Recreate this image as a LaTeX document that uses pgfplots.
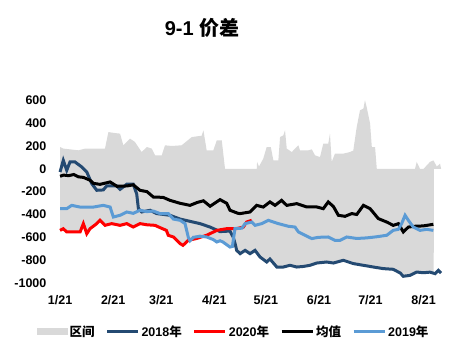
\documentclass[border=0pt]{standalone}
\usepackage{fontspec}
\setmainfont{Liberation Sans}
\newfontfamily\cjk{Noto Sans CJK SC}
\usepackage{pgfplots}
\pgfplotsset{compat=1.18}
\definecolor{rng}{HTML}{D9D9D9}
\definecolor{c18}{HTML}{244A72}
\definecolor{c19}{HTML}{5B9BD5}
\definecolor{c20}{HTML}{FF0000}
\begin{document}
\begin{tikzpicture}
\useasboundingbox (0,0) rectangle (470pt,360pt);
\begin{axis}[
  at={(54.9pt,77pt)}, anchor=south west,
  scale only axis, width=392.7pt, height=182.7pt,
  xmin=-3, xmax=226, ymin=-1000, ymax=600,
  axis line style={draw=none}, tick style={draw=none},
  xtick={0,31,59,90,120,151,181,212},
  xticklabels={1/21,2/21,3/21,4/21,5/21,6/21,7/21,8/21},
  ytick={-1000,-800,-600,-400,-200,0,200,400,600},
  yticklabels={-1000,-800,-600,-400,-200,0,200,400,600},
  ticklabel style={font=\bfseries\fontsize{12.5}{14}\selectfont},
  yticklabel style={xshift=-5pt},
  xticklabel style={yshift=-9pt},
  legend columns=5,
  legend image code/.code={\draw[#1, line width=3pt] (0pt,0pt) -- (31pt,0pt);},
  legend style={draw=none, fill=none, at={(0.4548,-0.268)}, anchor=center,
    font=\bfseries\fontsize{12.5}{14}\selectfont,
    /tikz/every even column/.append style={column sep=9pt}},
]
\addplot[fill=rng, draw=none, legend image code/.code={\fill[rng] (0pt,-3.5pt) rectangle (31pt,3.5pt);}] coordinates {
(0,191)(2,177)(10.7,162)(14.6,177)(26.2,177)(28.2,322)(31.1,315)(35,308)(36.9,206)(40.8,264)(43.7,235)(47.6,147)(50.6,191)(53.5,177)(55.4,118)(59.3,118)(61.2,206)(65.1,200)(70.9,206)(76.8,278)(82.6,290)(83.6,337)(85.5,162)(89.4,162)(91.4,250)(94.3,250)(96.2,0)(114.7,0)(114.9,60)(116,20)(118.5,89)(120.5,191)(122.9,191)(124.4,74)(127.3,74)(128.3,278)(130.2,293)(131.2,337)(132.2,177)(135.1,147)(139,206)(139.9,162)(144.8,162)(146.8,170)(148.7,118)(151.6,103)(153.5,220)(156.4,220)(157.4,308)(158.4,60)(160.3,133)(165.2,133)(169.1,147)(171,160)(173,366)(174.9,512)(176.9,527)(177.8,600)(178.8,541)(180.8,396)(181.8,191)(183.7,191)(184.7,0)(207,0)(207.5,30)(208,60)(209.9,0)(212,0)(215.7,60)(217.7,74)(219.7,20)(221.6,45)(222.2,0)
(218,0)(217.9,-905)(215.7,-905)(211.8,-910)(208,-904)(204.1,-933)(200.2,-941)(198.3,-912)(194.3,-880)(188.5,-874)(182.7,-860)(176.9,-845)(171,-830)(165.2,-801)(159.4,-825)(155.5,-816)(149.7,-825)(145.8,-845)(141.9,-855)(138,-860)(134.1,-845)(130.2,-860)(126.4,-860)(122.4,-790)(120.5,-816)(116.6,-772)(113.7,-714)(110.8,-743)(107.9,-714)(105,-743)(103,-714)(102,-650)(100.5,-680)(99.1,-685)(97.2,-665)(95,-641)(93.3,-630)(91.4,-641)(89.4,-620)(85.5,-597)(81.6,-600)(77.7,-615)(75.8,-630)(74.8,-626)(71.7,-670)(70,-655)(66.1,-597)(63.1,-582)(62,-539)(58.3,-515)(55.4,-495)(50.6,-490)(46.6,-480)(42.7,-510)(38.9,-480)(35,-495)(30.1,-480)(26.2,-495)(23.3,-451)(21.4,-480)(17.5,-524)(15.6,-568)(13.6,-480)(11.7,-553)(3.9,-553)(1.9,-525)(0,-539)
} -- cycle;
\addplot[c18, line width=3pt] coordinates {
(0,-28)(1.9,74)(3.9,-13)(5.8,60)(8.7,60)(12.7,16)(15.6,-28)(18.5,-130)(21.4,-188)(25.2,-185)(27.2,-150)(33.1,-150)(35,-180)(38.9,-135)(42.7,-135)(44.7,-220)(45.7,-349)(47.6,-378)(52.5,-363)(56.4,-392)(64.1,-407)(70,-440)(75.8,-460)(81.6,-480)(87.5,-510)(93.3,-550)(99.1,-545)(101,-600)(102,-650)(103,-714)(105,-743)(107.9,-714)(110.8,-743)(113.7,-714)(116.6,-772)(120.5,-816)(122.4,-790)(126.4,-860)(130.2,-860)(134.1,-845)(138,-860)(141.9,-855)(145.8,-845)(149.7,-825)(155.5,-816)(159.4,-825)(165.2,-801)(171,-830)(176.9,-845)(182.7,-860)(188.5,-874)(194.3,-880)(198.3,-912)(200.2,-941)(204.1,-933)(208,-904)(211.8,-910)(215.7,-905)(218.7,-918)(220.6,-889)(222.2,-912)
};
\addplot[c20, line width=3pt] coordinates {
(0,-539)(1.9,-525)(3.9,-553)(11.7,-553)(13.6,-480)(15.6,-568)(17.5,-524)(21.4,-480)(23.3,-451)(26.2,-495)(30.1,-480)(35,-495)(38.9,-480)(42.7,-510)(46.6,-480)(50.6,-490)(55.4,-495)(58.3,-515)(62,-539)(63.1,-582)(66.1,-597)(70,-655)(71.7,-670)(74.8,-626)(79.4,-611)(85.5,-582)(91.4,-539)(97.2,-524)(103,-524)(106.9,-510)(108.8,-466)(111.8,-451)
};
\addplot[black, line width=3pt] coordinates {
(0,-65)(2,-55)(5,-60)(8,-50)(10.7,-70)(13.6,-75)(17.5,-100)(19.4,-127)(23.3,-136)(29.2,-115)(33.2,-153)(39.1,-150)(42.7,-140)(46.6,-188)(50.7,-200)(54.4,-247)(60.1,-250)(64.1,-276)(70,-302)(75.8,-320)(79.9,-295)(83.6,-280)(87.5,-328)(93.3,-270)(97.2,-302)(99.1,-363)(103.8,-390)(105,-392)(110.8,-378)(114.7,-320)(118.5,-335)(122.4,-290)(125.4,-320)(129.2,-276)(132.2,-320)(138,-305)(143.8,-334)(149.7,-334)(153.5,-349)(156.4,-290)(159.4,-330)(162.3,-407)(166.2,-416)(170.1,-392)(173,-400)(176.9,-320)(180.8,-349)(185.6,-436)(190.5,-466)(194.3,-495)(197.3,-480)(200.2,-553)(203.1,-510)(207,-503)(211.8,-500)(217.7,-486)
};
\addplot[c19, line width=3pt] coordinates {
(0,-349)(3.9,-349)(6.8,-320)(11.7,-335)(19.4,-335)(25.2,-320)(29.2,-335)(31.1,-422)(35,-407)(38.9,-378)(42.7,-390)(46.6,-363)(50.6,-375)(54.4,-370)(58.3,-392)(63.1,-392)(66.1,-440)(70,-451)(72.9,-480)(74.8,-600)(75.8,-630)(77.7,-600)(81.6,-590)(85.5,-597)(89.4,-620)(91.4,-641)(93.3,-630)(95,-641)(97.2,-665)(99.1,-685)(100.5,-680)(102,-523)(106,-520)(107.9,-480)(111.8,-466)(113.7,-495)(117.6,-480)(121.5,-451)(127.3,-480)(133.1,-503)(137,-510)(139,-553)(142.9,-582)(146.8,-611)(150.6,-600)(156.4,-597)(160.3,-626)(163.3,-626)(167.2,-597)(173,-610)(178.8,-605)(184.7,-595)(190.5,-582)(194.3,-539)(197.3,-530)(199.2,-480)(201.2,-407)(203.1,-451)(206,-510)(209.9,-539)(213.8,-530)(217.7,-539)
};
\legend{{\cjk 区间},2018{\cjk 年},2020{\cjk 年},{\cjk 均值},2019{\cjk 年}}
\end{axis}
\node[font=\bfseries\fontsize{20}{24}\selectfont] at (202pt,332pt) {9-1 {\cjk 价差}};
\end{tikzpicture}
\end{document}
